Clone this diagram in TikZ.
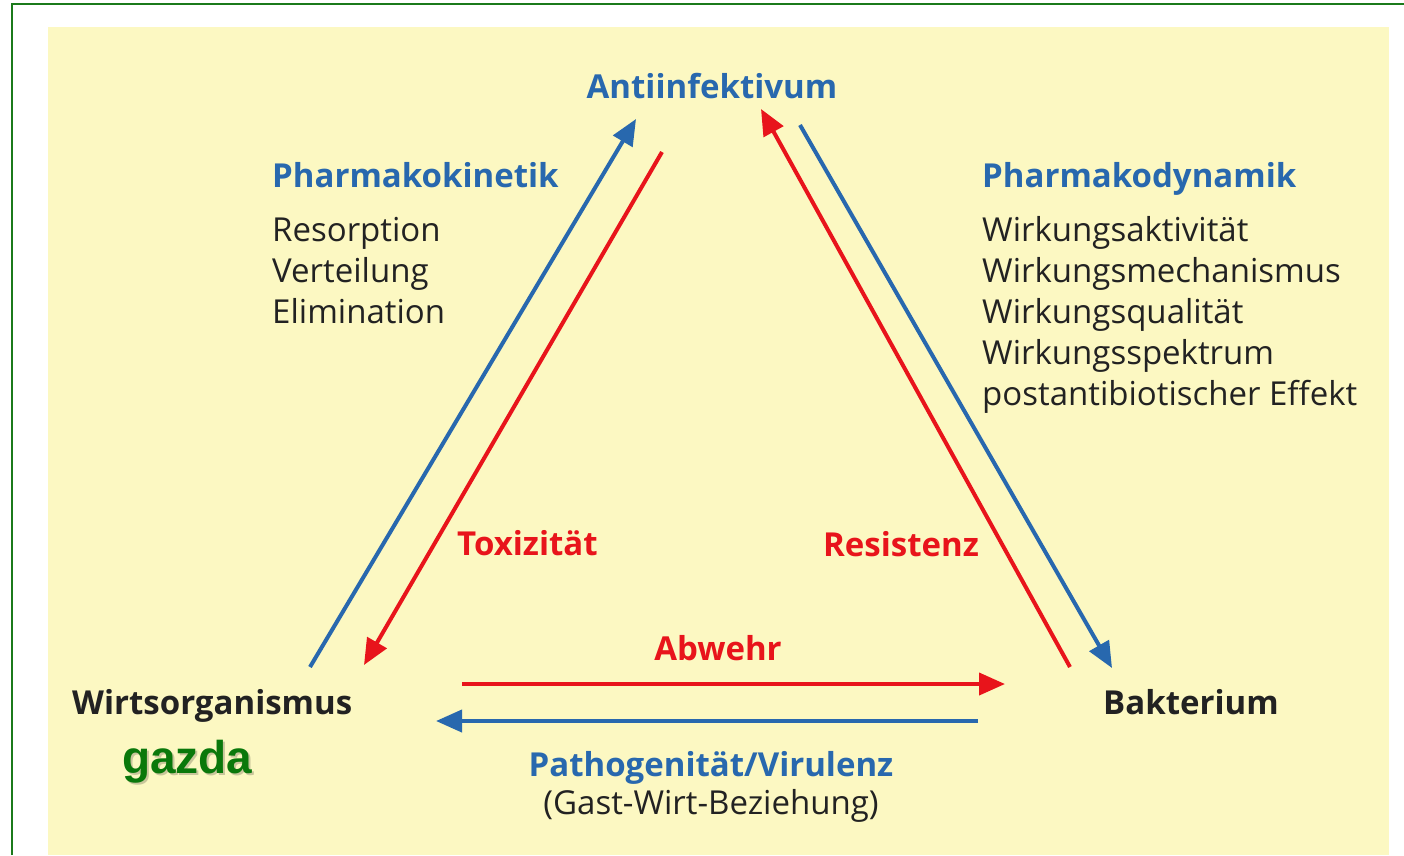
\documentclass[tikz,border=0pt]{standalone}
\usepackage{fontspec}
\setmainfont{Open Sans}
\newfontfamily\gzfont{Liberation Sans}
\usetikzlibrary{arrows.meta}
\definecolor{bgyellow}{HTML}{FCF8C2}
\definecolor{myblue}{HTML}{2868AE}
\definecolor{myred}{HTML}{E8141B}
\definecolor{mygreen}{HTML}{1B7A1B}
\definecolor{gzgreen}{HTML}{0A780A}
\definecolor{txt}{HTML}{222222}
\tikzset{
  bluehead/.style={font=\fontsize{33}{33}\selectfont\bfseries, text=myblue, inner sep=0pt},
  redhead/.style={font=\fontsize{33}{33}\selectfont\bfseries, text=myred, inner sep=0pt},
  blackhead/.style={font=\fontsize{33}{33}\selectfont\bfseries, text=txt, inner sep=0pt},
  plain/.style={font=\fontsize{33}{33}\selectfont, text=txt, inner sep=0pt},
  bluearrow/.style={draw=myblue, line width=4pt, -{Triangle[length=26pt,width=22pt]}},
  redarrow/.style={draw=myred, line width=4pt, -{Triangle[length=26pt,width=22pt]}},
}
\begin{document}
\begin{tikzpicture}[x=1pt,y=-1pt]
\useasboundingbox (0,0) rectangle (1404,855);
\fill[white] (0,0) rectangle (1404,855);
\fill[bgyellow] (48,27) rectangle (1389,855);
\draw[mygreen, line width=2pt] (12,855) -- (12,4) -- (1404,4);

% titles
\node[bluehead, anchor=base] (anti) at (712,98) {Antiinfektivum};
\node[blackhead, anchor=base west] (wirt) at (72,714) {Wirtsorganismus};
\node[blackhead, anchor=base west] (bakt) at (1103,714) {Bakterium};

% left block
\node[bluehead, anchor=base west] (pk) at (272,187) {Pharmakokinetik};
\node[plain, anchor=base west] (pk1) at (272,241) {Resorption};
\node[plain, anchor=base west] (pk2) at (272,282) {Verteilung};
\node[plain, anchor=base west] (pk3) at (272,323) {Elimination};

% right block
\node[bluehead, anchor=base west] (pd) at (982,187) {Pharmakodynamik};
\node[plain, anchor=base west] (pd1) at (982,241) {Wirkungsaktivität};
\node[plain, anchor=base west] (pd2) at (982,282) {Wirkungsmechanismus};
\node[plain, anchor=base west] (pd3) at (982,323) {Wirkungsqualität};
\node[plain, anchor=base west] (pd4) at (982,364) {Wirkungsspektrum};
\node[plain, anchor=base west] (pd5) at (982,405) {postantibiotischer Effekt};

% edge labels
\node[redhead, anchor=base west] (tox) at (457,555) {Toxizität};
\node[redhead, anchor=base west] (res) at (823,556) {Resistenz};
\node[redhead, anchor=base] (abw) at (718,660) {Abwehr};
\node[bluehead, anchor=base] (path) at (711,776) {Pathogenität/Virulenz};
\node[plain, anchor=base] (gast) at (711,814) {(Gast-Wirt-Beziehung)};

% gazda
\node[font=\gzfont\fontsize{46}{46}\selectfont\bfseries, text=black, opacity=0.2, inner sep=0pt, anchor=base west] (gzshadow) at (124,775) {gazda};
\node[font=\gzfont\fontsize{46}{46}\selectfont\bfseries, text=gzgreen, inner sep=0pt, anchor=base west] (gz) at (122,773) {gazda};

% arrow endpoints
\coordinate (bl1) at (310,667);
\coordinate (bl2) at (636,119);
\coordinate (rl1) at (662,152);
\coordinate (rl2) at (364,665);
\coordinate (rr1) at (1070,667);
\coordinate (rr2) at (761,109);
\coordinate (br1) at (800,125);
\coordinate (br2) at (1112,668);
\coordinate (rh1) at (462,684);
\coordinate (rh2) at (1005,684);
\coordinate (bh1) at (978,721);
\coordinate (bh2) at (436,721);

\draw[bluearrow] (bl1) -- (bl2);
\draw[redarrow] (rl1) -- (rl2);
\draw[redarrow] (rr1) -- (rr2);
\draw[bluearrow] (br1) -- (br2);
\draw[redarrow] (rh1) -- (rh2);
\draw[bluearrow] (bh1) -- (bh2);
\end{tikzpicture}
\end{document}
